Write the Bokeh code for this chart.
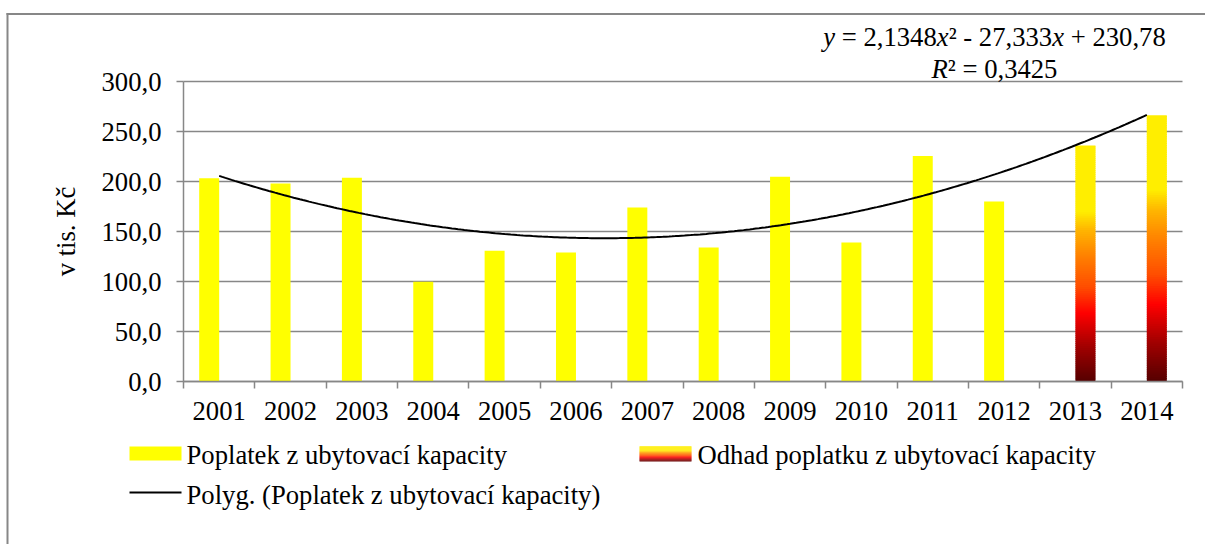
import numpy as np
from bokeh.plotting import figure
from bokeh.models import Range1d, FixedTicker, Label, BoxAnnotation, ColumnDataSource
from bokeh.embed import file_html
from bokeh.resources import INLINE

# ---------------- data ----------------
years = ["2001", "2002", "2003", "2004", "2005", "2006", "2007",
         "2008", "2009", "2010", "2011", "2012", "2013", "2014"]
poplatek_years = years[:12]
poplatek = [203.3, 198.0, 203.7, 99.7, 130.7, 129.0, 174.0,
            134.0, 204.7, 139.0, 225.5, 180.0]
odhad_years = ["2013", "2014"]
odhad = [236.0, 266.3]
trend_coef = [2.1348, -27.333, 230.78]   # y = a x^2 + b x + c (as printed on chart)
r_squared = 0.3425
y_ticks = [0, 50, 100, 150, 200, 250, 300]

series_names = ["Poplatek z ubytovací kapacity",
                "Odhad poplatku z ubytovací kapacity",
                "Polyg. (Poplatek z ubytovací kapacity)"]
y_label = "v tis. Kč"

# ---------------- style / layout ----------------
W, H = 1205, 544
PLOT_L, PLOT_R, PLOT_T, PLOT_B = 183, 1182, 81, 381   # plotting area in page px
FONT = "Liberation Serif"
FS = "20pt"
PX = 26.67
SPACE = 0.25
GRAY = "#878787"
YELLOW = "#ffff00"
BAR_W = 0.28
DODGE = 0.14
TEXT_SHIFT = 8
grad_stops = [(0.0, "#550000"), (0.15, "#a30000"), (0.29, "#ff0000"),
              (0.40, "#ff4d00"), (0.53, "#ff8000"), (0.64, "#ffb400"),
              (0.72, "#ffee00"), (1.0, "#ffee00")]


def grad_color(f):
    for (f0, c0), (f1, c1) in zip(grad_stops[:-1], grad_stops[1:]):
        if f0 <= f <= f1:
            t = 0 if f1 == f0 else (f - f0) / (f1 - f0)
            a = [int(c0[i:i + 2], 16) for i in (1, 3, 5)]
            b = [int(c1[i:i + 2], 16) for i in (1, 3, 5)]
            return "#%02x%02x%02x" % tuple(int(round(a[k] + (b[k] - a[k]) * t)) for k in range(3))
    return grad_stops[-1][1]


n = len(years)
pos = {y: i + 1 for i, y in enumerate(years)}
cat_w = (PLOT_R - PLOT_L) / n                 # px per category
y_top = max(y_ticks)
px_per_unit = (PLOT_B - PLOT_T) / y_top
x_range = Range1d(0.5 - PLOT_L / cat_w, 0.5 + (W - PLOT_L) / cat_w)
y_range = Range1d(-(H - PLOT_B) / px_per_unit, PLOT_B / px_per_unit)

p = figure(width=W, height=H, x_range=x_range, y_range=y_range,
           output_backend="svg", toolbar_location=None,
           min_border_left=0, min_border_right=0,
           min_border_top=0, min_border_bottom=0)
p.title.visible = False
p.outline_line_color = None
p.background_fill_color = "white"
p.border_fill_color = "white"

# yellow bars
src = ColumnDataSource(dict(x=[pos[y] - DODGE for y in poplatek_years], top=poplatek))
p.vbar(x="x", top="top", width=BAR_W, source=src, fill_color=YELLOW, line_color=None)

# gradient bars
N = 120
gx, gb, gt, gc = [], [], [], []
for y, v in zip(odhad_years, odhad):
    for i in range(N):
        gx.append(pos[y] + DODGE)
        gb.append(v * i / N)
        gt.append(min(v, v * (i + 1.6) / N))
        gc.append(grad_color((i + 0.5) / N))
p.vbar(x=gx, bottom=gb, top=gt, width=BAR_W, fill_color=gc, line_color=None)

# trendline
tx = np.linspace(1, n, 300)
ty = np.polyval(trend_coef, tx)
p.line(tx, ty, line_color="black", line_width=2)

# grid
p.xgrid.visible = False
p.ygrid.grid_line_color = GRAY
p.ygrid.grid_line_width = 1.5
p.ygrid.ticker = FixedTicker(ticks=y_ticks)
p.ygrid.cross_bounds = (0.5, n + 0.5)

# axes (placed at the plotting-area edges)
yax = p.yaxis[0]
yax.fixed_location = 0.5
yax.bounds = (0, y_top)
yax.ticker = FixedTicker(ticks=y_ticks, minor_ticks=[])
yax.major_label_overrides = {t: ("%.1f" % t).replace(".", ",") for t in y_ticks}
yax.major_tick_out = 7
yax.major_tick_in = 0
yax.minor_tick_line_color = None
yax.axis_line_color = GRAY
yax.axis_line_width = 1.5
yax.major_tick_line_color = GRAY
yax.major_tick_line_width = 1.5
yax.major_label_text_font = FONT
yax.major_label_text_font_size = FS
yax.major_label_text_color = "black"
yax.major_label_standoff = 15
yax.axis_label = y_label
yax.axis_label_text_font = FONT
yax.axis_label_text_font_size = FS
yax.axis_label_text_font_style = "normal"
yax.axis_label_text_color = "black"
yax.axis_label_standoff = 18

xax = p.xaxis[0]
xax.fixed_location = 0
xax.bounds = (0.5, n + 0.5)
xax.ticker = FixedTicker(ticks=[pos[y] for y in years],
                         minor_ticks=[pos[y] - 0.5 for y in years] + [n + 0.5])
xax.major_label_overrides = {pos[y]: y for y in years}
xax.major_tick_line_color = None
xax.minor_tick_line_color = GRAY
xax.minor_tick_line_width = 1.5
xax.minor_tick_out = 7
xax.minor_tick_in = 0
xax.axis_line_color = GRAY
xax.axis_line_width = 1.5
xax.major_label_text_font = FONT
xax.major_label_text_font_size = FS
xax.major_label_text_color = "black"
xax.major_label_standoff = 13


# helpers in page pixel coordinates (y measured from top)
def box(l, r, t, b, color):
    p.add_layout(BoxAnnotation(left=l, right=r, top=H - t, bottom=H - b,
                               left_units="screen", right_units="screen",
                               top_units="screen", bottom_units="screen",
                               fill_color=color, fill_alpha=1, line_color=None))


def lab(x, y, text, italic=False):
    lead = len(text) - len(text.lstrip(" "))
    p.add_layout(Label(x=x + lead * SPACE * PX, y=H - y + TEXT_SHIFT,
                       x_units="screen", y_units="screen", text=text.strip(" "),
                       text_font=FONT, text_font_size=FS, text_color="black",
                       text_font_style="italic" if italic else "normal",
                       text_align="left", text_baseline="alphabetic"))


# chart-area border (top & left edges visible)
box(6, W, 12.5, 14.5, GRAY)
box(6, 8, 12.5, H, GRAY)

# trendline equation
a, b, c = trend_coef
fmt = lambda v, d: ("%.*f" % (d, v)).replace(".", ",")
line1 = [("y", True, 0.444), (" = " + fmt(a, 4), False, 3.814), ("x", True, 0.444),
         ("² - " + fmt(-b, 3), False, 3.883), ("x", True, 0.444),
         (" + " + fmt(c, 2), False, 3.814)]
line2 = [("R", True, 0.611), ("² = " + fmt(r_squared, 4), False, 4.114)]
center_x = 994
for parts, base in ((line1, 44), (line2, 76)):
    total = sum(w for _, _, w in parts) * PX
    x0 = center_x - total / 2
    for t, it, w in parts:
        lab(x0, base, t, it)
        x0 += w * PX

# legend
box(129, 181, 446, 460, YELLOW)
SW = 15
for i in range(SW):
    box(639, 691, 461 - i - 1.3, 461 - i, grad_color((i + 0.5) / SW))
box(129, 181, 491, 493, "black")
lab(186, 462, series_names[0])
lab(697, 462, series_names[1])
lab(186, 502, series_names[2])

open("out.html", "w").write(file_html(p, INLINE))
